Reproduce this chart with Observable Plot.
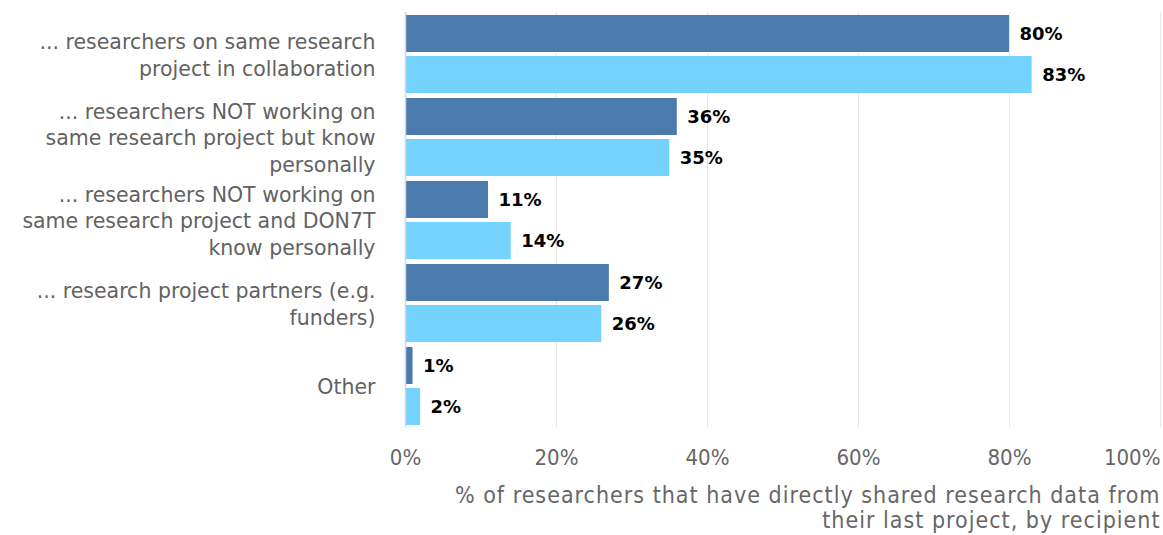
<!DOCTYPE html>
<html><head><meta charset="utf-8">
<script src="https://cdn.jsdelivr.net/npm/d3@7"></script>
<script src="https://cdn.jsdelivr.net/npm/@observablehq/plot@0.6"></script>
<style>
body{margin:0;background:#fff}
</style>
</head><body><div id="chart"></div>
<script>
const categories = [
  "... researchers on same research project in collaboration",
  "... researchers NOT working on same research project but know personally",
  "... researchers NOT working on same research project and DON7T know personally",
  "... research project partners (e.g. funders)",
  "Other"
];
const categoryLabels = [
  "... researchers on same research\nproject in collaboration",
  "... researchers NOT working on\nsame research project but know\npersonally",
  "... researchers NOT working on\nsame research project and DON7T\nknow personally",
  "... research project partners (e.g.\nfunders)",
  "Other"
];
const seriesNames = ["Series 1", "Series 2"];
const series1Values = [80, 36, 11, 27, 1];
const series2Values = [83, 35, 14, 26, 2];
const xTicks = [0, 20, 40, 60, 80, 100];
const xTitle = "% of researchers that have directly shared research data from\ntheir last project, by recipient";
const colors = ["#4b7bac", "#73d3fe"];

const data = categories.flatMap((c, i) => [
  {category: c, series: seriesNames[0], value: series1Values[i]},
  {category: c, series: seriesNames[1], value: series2Values[i]}
]);
const labelOf = new Map(categories.map((c, i) => [c, categoryLabels[i]]));

const chart = Plot.plot({
  width: 1163, height: 535,
  marginLeft: 405, marginRight: 3, marginTop: 11, marginBottom: 107,
  style: {fontFamily: "DejaVu Sans", background: "#fff"},
  x: {domain: [0, 100]},
  fy: {domain: categories, padding: 0},
  y: {domain: seriesNames, paddingInner: 0.1, paddingOuter: 0.05, axis: null},
  color: {domain: seriesNames, range: colors},
  marks: [
    Plot.gridX(xTicks.slice(1), {stroke: "#e6e6e6", strokeOpacity: 1}),
    Plot.barX(data, {fy: "category", y: "series", x: "value", fill: "series"}),
    Plot.ruleX([0], {stroke: "#ccd6eb", strokeWidth: 1.5}),
    Plot.text(data, {fy: "category", y: "series", x: "value", text: d => d.value + "%",
      textAnchor: "start", dx: 10, fontWeight: "bold", fontSize: 18, fill: "#000"}),
    Plot.axisFy({anchor: "left", tickSize: 0, tickPadding: 30, label: null,
      tickFormat: c => labelOf.get(c), fontSize: 20.5, lineHeight: 1.29, color: "#626262"}),
    Plot.axisX(xTicks.slice(0, -1), {tickSize: 0, tickPadding: 22, label: null,
      tickFormat: d => d + "%", fontSize: 22, color: "#666", fontFamily: "DejaVu Sans Condensed"}),
    Plot.axisX(xTicks.slice(-1), {tickSize: 0, tickPadding: 22, label: null, textAnchor: "end",
      tickFormat: d => d + "%", fontSize: 22, color: "#666", fontFamily: "DejaVu Sans Condensed"}),
    Plot.text([xTitle], {facet: "super", frameAnchor: "bottom-right", lineAnchor: "top", dy: 58,
      fontSize: 23, lineHeight: 1.09, fill: "#666", fontFamily: "DejaVu Sans Condensed"})
  ]
});
chart.querySelectorAll("text").forEach(t => {
  if (t.textContent.includes("% of researchers")) t.style.letterSpacing = "1px";
});
document.getElementById("chart").appendChild(chart);
</script>
</body></html>
